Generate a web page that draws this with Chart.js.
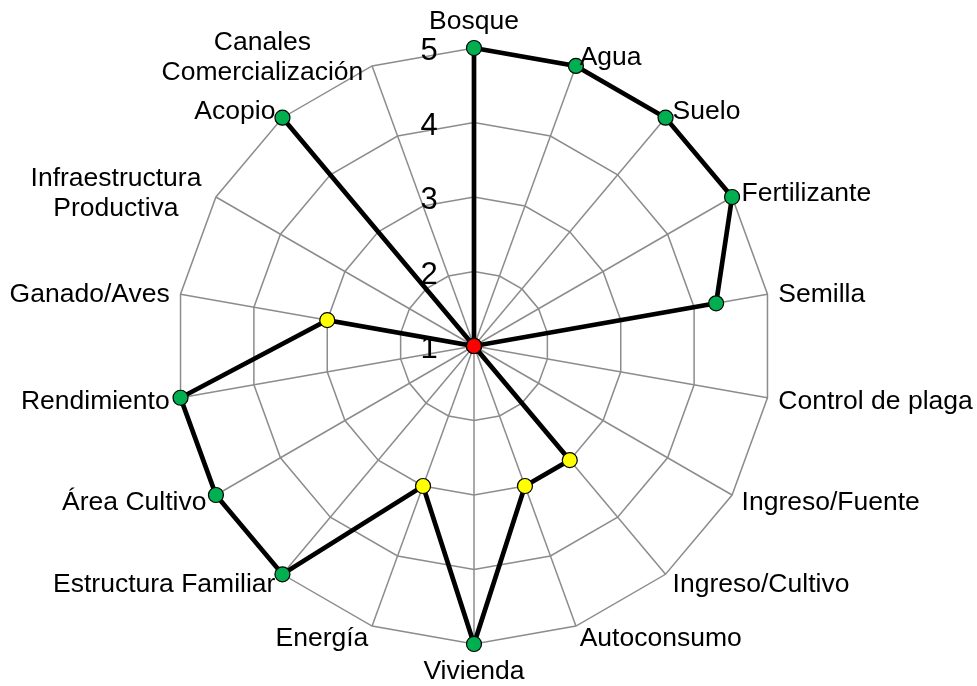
<!DOCTYPE html>
<html>
<head>
<meta charset="utf-8">
<script src="https://cdn.jsdelivr.net/npm/chart.js@4.4.1/dist/chart.umd.min.js"></script>
<style>
  html, body { margin: 0; padding: 0; background: #fff; }
  canvas { display: block; }
</style>
</head>
<body>
<canvas id="radar" width="977" height="686"></canvas>
<script>
// categories, clockwise from the top (multi-line names as arrays)
const categories = [
  ["Bosque"], ["Agua"], ["Suelo"], ["Fertilizante"], ["Semilla"],
  ["Control de plaga"], ["Ingreso/Fuente"], ["Ingreso/Cultivo"], ["Autoconsumo"],
  ["Vivienda"], ["Energía"], ["Estructura Familiar"], ["Área Cultivo"],
  ["Rendimiento"], ["Ganado/Aves"], ["Infraestructura", "Productiva"],
  ["Acopio"], ["Canales", "Comercialización"]
];
const scores = [5, 5, 5, 5, 4.3, 1, 1, 3, 3, 5, 3, 5, 5, 5, 3, 1, 5, 1];
const tickLabels = ["1", "2", "3", "4", "5"];

const FONT = '"Liberation Sans", Arial, sans-serif';
const LABEL_SIZE = 26.5;
const TICK_SIZE = 31;

// green for high, yellow mid, red at the minimum
function colorFor(v) {
  if (v >= 4) return "#00b050";
  if (v > 1) return "#ffff00";
  return "#ff0000";
}

// draws the tick numbers and category names the way the original does
const labelPlugin = {
  id: "radarLabels",
  afterDraw(chart) {
    const r = chart.scales.r;
    const ctx = chart.ctx;
    ctx.save();
    ctx.fillStyle = "#000";

    ctx.font = TICK_SIZE + "px " + FONT;
    ctx.textAlign = "center";
    ctx.textBaseline = "alphabetic";
    r.ticks.forEach((t, i) => {
      const d = r.getDistanceFromCenterForValue(t.value);
      ctx.fillText(tickLabels[i], r.xCenter - 45, r.yCenter - d + 1 + 0.358 * TICK_SIZE);
    });

    ctx.font = LABEL_SIZE + "px " + FONT;
    const cap = 0.358 * LABEL_SIZE;
    const lh = 30.5;
    categories.forEach((lines, i) => {
      const deg = Math.round(i * 360 / categories.length);
      const p = r.getPointPosition(i, r.drawingArea + 11);
      if (deg === 0) {
        ctx.textAlign = "center";
        ctx.fillText(lines[0], p.x, p.y - 17.5 + cap);
        return;
      }
      if (deg === 180) {
        ctx.textAlign = "center";
        ctx.fillText(lines[0], p.x, p.y + 14.5 + cap);
        return;
      }
      const n = lines.length;
      const maxW = Math.max(...lines.map(s => ctx.measureText(s).width));
      let x;
      if (n > 1) {
        ctx.textAlign = "center";
        x = deg < 180 ? p.x + maxW / 2 : p.x - maxW / 2 - 5;
      } else {
        ctx.textAlign = deg < 180 ? "left" : "right";
        x = p.x;
      }
      lines.forEach((s, k) => {
        ctx.fillText(s, x, p.y + (k - (n - 1) / 2) * lh + cap);
      });
    });
    ctx.restore();
  }
};

new Chart(document.getElementById("radar"), {
  type: "radar",
  data: {
    labels: categories,
    datasets: [{
      data: scores,
      borderColor: "#000",
      borderWidth: 4.7,
      fill: false,
      tension: 0,
      pointRadius: 7.5,
      pointHoverRadius: 7.5,
      pointBorderColor: "#000",
      pointBorderWidth: 1.2,
      pointBackgroundColor: scores.map(colorFor)
    }]
  },
  options: {
    responsive: false,
    animation: false,
    devicePixelRatio: 1,
    layout: { padding: { left: 100, right: 129, top: 48, bottom: 42 } },
    plugins: { legend: { display: false }, tooltip: { enabled: false } },
    scales: {
      r: {
        min: 1,
        max: 5,
        ticks: { stepSize: 1, display: false },
        grid: { color: "#8c8c8c", lineWidth: 1.5, circular: false },
        angleLines: { color: "#8c8c8c", lineWidth: 1.5 },
        pointLabels: { display: false }
      }
    }
  },
  plugins: [labelPlugin]
});
</script>
</body>
</html>
